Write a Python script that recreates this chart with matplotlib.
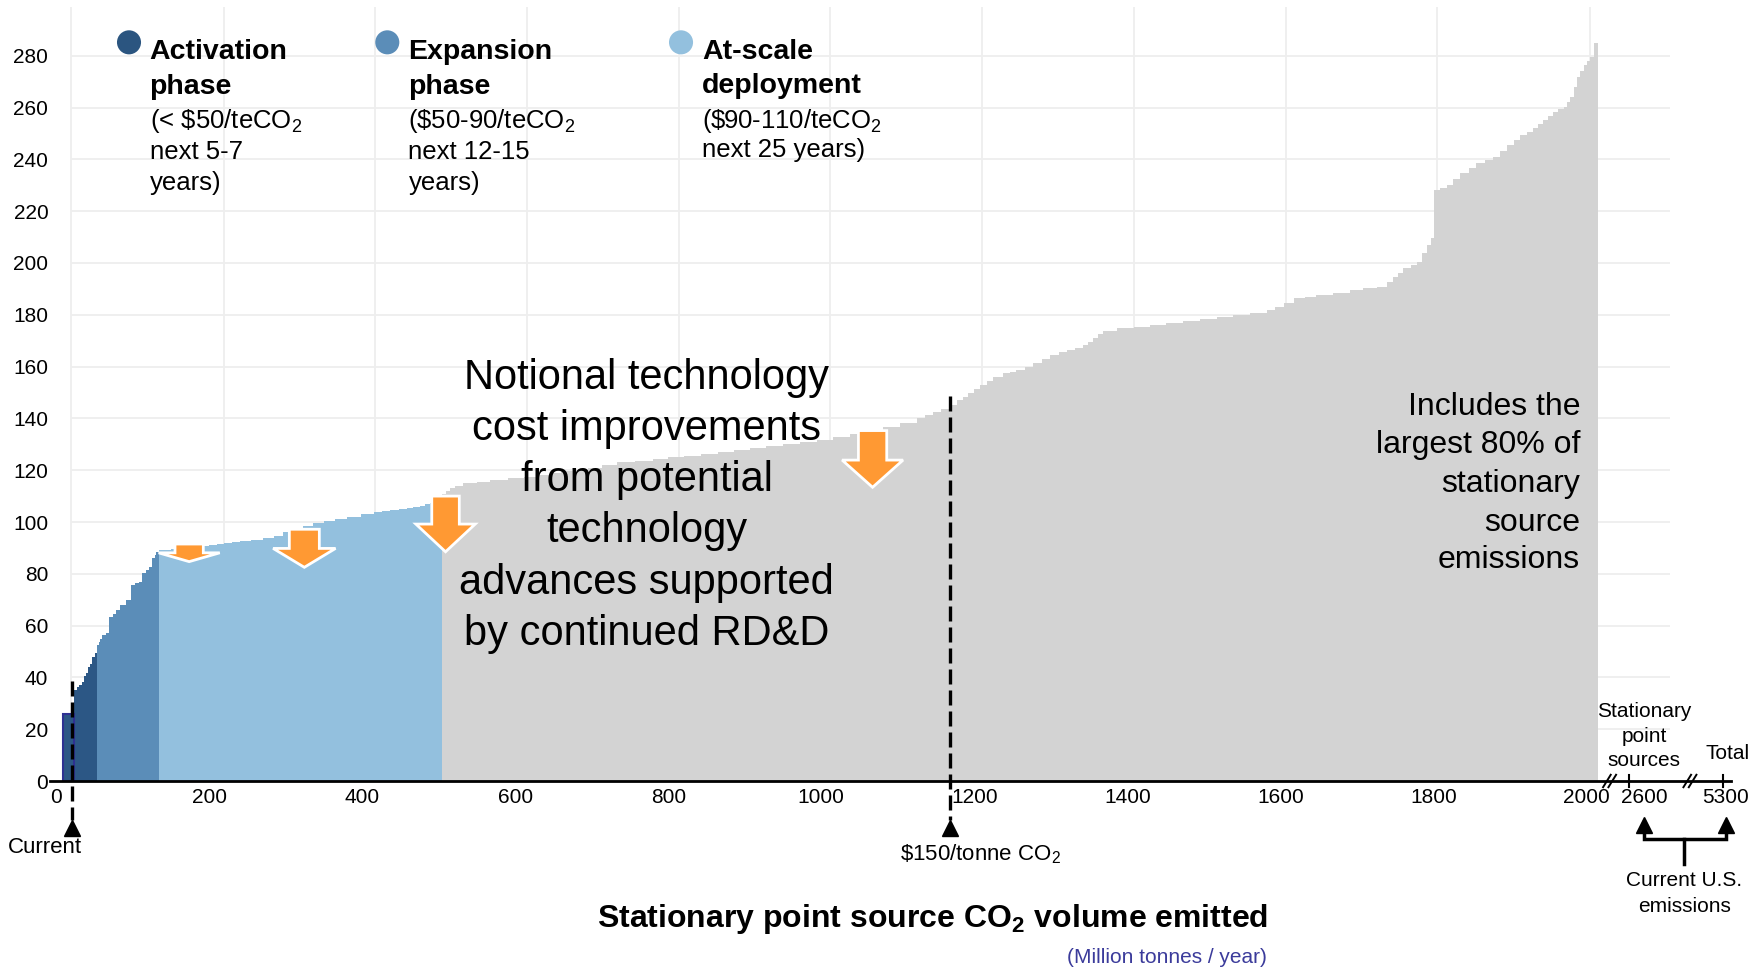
import matplotlib
matplotlib.use('Agg')
import matplotlib.pyplot as plt
from matplotlib.patches import Polygon

plt.rcParams['font.family'] = ['Liberation Sans', 'DejaVu Sans']
plt.rcParams['mathtext.fontset'] = 'custom'
plt.rcParams['mathtext.rm'] = 'Liberation Sans'
plt.rcParams['mathtext.bf'] = 'Liberation Sans:bold'
plt.rcParams['mathtext.default'] = 'regular'

# === Cost curve: step edges (cumulative Mt CO2/yr) and cost per step ($/tCO2) ===
current_edges = [9, 24]
current_cost = [26]

activation_edges = [24, 27, 30, 33.5, 36, 39, 42, 44.5, 47, 51, 54]
activation_cost = [35.2, 36.4, 37.2, 38.3, 40.5, 41.6, 44.1, 45.3, 48.0, 49.3]

expansion_edges = [54, 56, 58, 60.5, 65, 69, 74, 78, 84, 91, 97.5, 103, 108.5,
                   113, 117, 121.5, 126, 129, 131, 134]
expansion_cost = [52.5, 53.8, 55.0, 56.4, 57.0, 63.4, 64.5, 66.0, 68.0, 69.9,
                  75.7, 76.3, 76.9, 80.2, 81.5, 82.7, 86.0, 87.3, 88.5]

at_scale_edges = [134, 150, 162, 175, 188, 200, 210, 220, 230, 240, 255, 270,
                  285, 297, 310, 323, 336, 350, 365, 380, 398, 415, 426, 437,
                  448, 458, 467, 475, 482, 489, 497, 504]
at_scale_cost = [89.2, 89.5, 90.0, 90.4, 90.8, 91.2, 91.6, 92.0, 92.2, 92.5,
                 93.0, 93.8, 94.6, 96.3, 97.4, 98.5, 99.5, 100.4, 101.2, 102.0,
                 103.0, 104.0, 104.4, 104.7, 105.0, 105.3, 105.8, 106.3, 106.8,
                 107.2, 107.8]

remaining_edges = [504, 509, 515, 522, 532, 550, 567, 590, 611, 628, 645, 660,
                   676, 695, 714, 733, 756, 780, 800, 820, 843, 865, 886, 907,
                   928, 950, 972, 994, 1015, 1037, 1059, 1081, 1103, 1125, 1136,
                   1146, 1157, 1168, 1177, 1185, 1192, 1200, 1207, 1216, 1225,
                   1238, 1246, 1255, 1266, 1277, 1288, 1299, 1310, 1321, 1331,
                   1342, 1349, 1355, 1362, 1368, 1386, 1408, 1430, 1451, 1473,
                   1495, 1517, 1538, 1560, 1582, 1593, 1604, 1617, 1632, 1647,
                   1669, 1691, 1708, 1726, 1739, 1747, 1754, 1760, 1770, 1778,
                   1785, 1791, 1797, 1801, 1809, 1817, 1826, 1835, 1846, 1856,
                   1867, 1878, 1887, 1896, 1905, 1913, 1922, 1930, 1937, 1943,
                   1950, 1956, 1963, 1970, 1974, 1978, 1983, 1987, 1992, 1996,
                   2000, 2004, 2009, 2015]
remaining_cost = [111, 112, 113, 114, 115, 115.6, 116.3, 116.8, 117.3, 118,
                  119, 119.5, 120, 121, 122, 123, 123.7, 124.3, 125, 125.5,
                  126.3, 127, 127.8, 128.5, 129.2, 130, 130.8, 131.7, 132.8,
                  134, 135.4, 136.8, 138.3, 140, 141.3, 142.6, 143.8, 145, 147,
                  148.4, 149.7, 151.3, 152.9, 154.5, 156, 157.4, 158, 158.7,
                  160, 161.3, 163, 164.5, 165.5, 166.4, 167.3, 168.3, 169.6,
                  170.9, 172.4, 173.9, 174.8, 175.4, 176, 176.8, 177.7, 178.5,
                  179.3, 180, 180.8, 181.9, 183, 184.4, 186.4, 187, 187.6,
                  188.6, 189.6, 190.2, 190.9, 192.8, 194.7, 196.3, 198, 199.3,
                  200.5, 203.7, 206.9, 209.5, 228.2, 229, 230, 232.3, 234.6,
                  236.5, 238.5, 239.8, 241, 243.3, 245.6, 247.5, 249.4, 250.7,
                  252, 253.6, 255.2, 256.8, 258.4, 259.4, 260.3, 262.2, 264.2,
                  268, 271.9, 274.2, 276.4, 278, 279.6, 284.8]

y_ticks = [0, 20, 40, 60, 80, 100, 120, 140, 160, 180, 200, 220, 240, 260, 280]
x_ticks = [0, 200, 400, 600, 800, 1000, 1200, 1400, 1600, 1800, 2000, 2075, 2181]
x_tick_labels = ['0', '200', '400', '600', '800', '1000', '1200', '1400', '1600',
                 '1800', '2000', '2600', '5300']

current_volume = 21      # today's capture volume marker
volume_at_150 = 1168     # volume available below $150/tonne

# colours
C_ACT = '#2C5785'
C_EXP = '#5B8DB8'
C_SCALE = '#93C0DE'
C_REST = '#D3D3D3'
C_ARROW = '#FF9933'
C_GRID = '#EEEEEE'

W, H = 1763, 968
fig = plt.figure(figsize=(W / 100, H / 100), dpi=100)
ax = fig.add_axes([0.02742, 0.19318, 0.95935, 0.80269])
ax.set_xlim(-10, 2200)
ax.set_ylim(0, 300)
for s in ax.spines.values():
    s.set_visible(False)

# — background grid —
grid_x = [20, 219, 417, 615, 814, 1012, 1210, 1409, 1607, 1805, 2004]
ax.vlines(grid_x, 0, 299, color=C_GRID, lw=1.3, zorder=0)
ax.hlines(y_ticks[1:], 20, 2109, color=C_GRID, lw=1.3, zorder=0)

# — cost curve by phase —
ax.stairs(activation_cost, activation_edges, fill=True, color=C_ACT, lw=0.5, zorder=2)
ax.stairs(expansion_cost, expansion_edges, fill=True, color=C_EXP, lw=0.5, zorder=2)
ax.stairs(at_scale_cost, at_scale_edges, fill=True, color=C_SCALE, lw=0.5, zorder=2)
ax.stairs(remaining_cost, remaining_edges, fill=True, color=C_REST, lw=0.5, zorder=2)
ax.bar(current_edges[0], current_cost[0], width=current_edges[1] - current_edges[0],
       align='edge', color=C_ACT, edgecolor='#2E3192', linewidth=1.5, zorder=3)

# — orange "cost reduction" arrows: (x, top, neck, tip, shaft half width, head half width) —
arrows = [(174, 91.5, 88.1, 84.7, 18.5, 40),
          (324.5, 97.2, 89.8, 82.5, 19.6, 40.8),
          (509, 110, 99.2, 88.5, 18, 38.8),
          (1067, 135.3, 123.9, 113.4, 18.5, 39.8)]
for x, top, neck, tip, sw, hw in arrows:
    pts = [(x - sw, top), (x + sw, top), (x + sw, neck), (x + hw, neck),
           (x, tip), (x - hw, neck), (x - sw, neck)]
    ax.add_patch(Polygon(pts, closed=True, facecolor=C_ARROW, edgecolor='white',
                         lw=2, zorder=4))

# — dashed markers for current volume and $150/tonne —
for x, top in [(current_volume, 38.6), (volume_at_150, 148.7)]:
    ax.plot([x, x], [top, -15], color='black', lw=2.4, dashes=(4.5, 1.8),
            clip_on=False, zorder=6)
    ax.plot([x], [-18], marker='^', color='black', ms=11, clip_on=False, zorder=6)

# — x axis with broken section —
ax.plot([-8, 2189], [0, 0], color='black', lw=2, clip_on=False, zorder=7)
for bx in [2030, 2135]:
    for off in [-3.5, 3.5]:
        ax.plot([bx + off - 5, bx + off + 5], [-2.4, 2.4], color='black', lw=1.4,
                clip_on=False, zorder=7)
for tx in [2055, 2178]:
    ax.plot([tx, tx], [-2.2, 2.2], color='black', lw=1.5, clip_on=False, zorder=7)

# bracket under 2600 / 5300
ax.plot([2075, 2075, 2182, 2182], [-16, -22.3, -22.3, -16], color='black', lw=2.5,
        clip_on=False, solid_joinstyle='miter')
ax.plot([2127, 2127], [-22.3, -32], color='black', lw=2.5, clip_on=False)
ax.plot([2075, 2182], [-16.8, -16.8], ls='none', marker='^', color='black', ms=11,
        clip_on=False)

ax.set_xticks(x_ticks, x_tick_labels)
ax.set_yticks(y_ticks)
ax.tick_params(axis='x', length=0, pad=5, labelsize=15)
ax.tick_params(axis='y', length=0, pad=0, labelsize=15)

# — phase legend —
ax.scatter([95.4, 432.9, 816.7], [285.2, 285.2, 285.2], s=300,
           c=['#2B5580', C_EXP, C_SCALE], clip_on=False, zorder=5, linewidths=0)


def label(x, y, s, **kw):
    fig.text(x / W, 1 - y / H, s, **kw)


legend = [
    (149.5, [('Activation', 'bold', 59), ('phase', 'bold', 94),
             ('(< \\$50/teCO$_2$', 'normal', 128), ('next 5-7', 'normal', 159),
             ('years)', 'normal', 190)]),
    (408.5, [('Expansion', 'bold', 59), ('phase', 'bold', 94),
             ('(\\$50-90/teCO$_2$', 'normal', 128), ('next 12-15', 'normal', 159),
             ('years)', 'normal', 190)]),
    (702, [('At-scale', 'bold', 59), ('deployment', 'bold', 93),
           ('(\\$90-110/teCO$_2$', 'normal', 128), ('next 25 years)', 'normal', 157)]),
]
for x, lines in legend:
    for text, weight, y in lines:
        label(x, y, text, fontsize=20.5 if weight == 'bold' else 18.5,
              fontweight=weight, ha='left', va='baseline')

# — annotations —
notional = ['Notional technology', 'cost improvements', 'from potential',
            'technology', 'advances supported', 'by continued RD&D']
for text, y in zip(notional, [389, 440, 491.5, 542, 594, 645]):
    label(646.5, y, text, fontsize=30, ha='center', va='baseline')

includes = ['Includes the', 'largest 80% of', 'stationary', 'source', 'emissions']
for text, y in zip(includes, [415, 453.5, 492.5, 531, 568]):
    label(1580, y, text, fontsize=23, ha='right', va='baseline')

for text, y in zip(['Stationary', 'point', 'sources'], [717, 742, 766]):
    label(1644, y, text, fontsize=15, ha='center', va='baseline')
label(1728, 759, 'Total', fontsize=15, ha='center', va='baseline')
for text, y in zip(['Current U.S.', 'emissions'], [885.5, 911.5]):
    label(1684.4, y, text, fontsize=15, ha='center', va='baseline')

label(45, 853, 'Current', fontsize=16, ha='center', va='baseline')
label(980.5, 860, '\\$150/tonne CO$_2$', fontsize=16, ha='center', va='baseline')

label(933, 926.5, 'Stationary point source CO$_2$ volume emitted', fontsize=23,
      fontweight='bold', ha='center', va='baseline')
label(1167, 963, '(Million tonnes / year)', fontsize=15, color='#3B3B9B',
      ha='center', va='baseline')

fig.savefig('out.png', dpi=100)
